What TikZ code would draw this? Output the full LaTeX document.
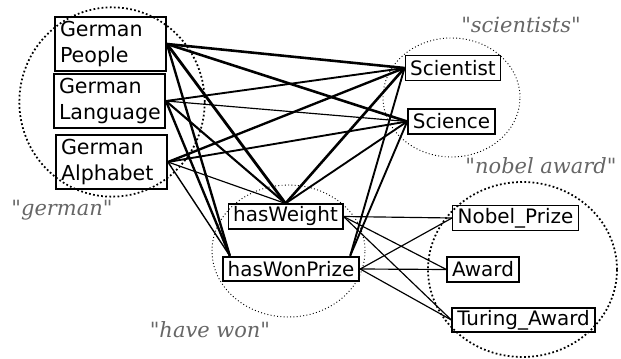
\documentclass[tikz,border=0pt]{standalone}
\usepackage{fontspec}
\setmainfont{DejaVu Sans}
\newfontfamily\groupfont{DejaVu Serif}
\usetikzlibrary{calc}
\tikzset{
    german box/.style={
        draw,line width=1.6pt,
        text width=3.03cm,align=left,inner xsep=0.15cm,
        minimum height=1.56cm,
        font=\fontsize{17.6}{22}\selectfont
    },
    concept box/.style={
        draw,line width=1.2pt,
        inner xsep=0.15cm,inner ysep=0pt,
        minimum height=0.74cm,
        font=\fontsize{17}{20}\selectfont
    },
    group label/.style={text=black!60,font=\groupfont\itshape\fontsize{17.9}{20}\selectfont},
    big ring/.style={dotted,line width=1.5pt},
    small ring/.style={dotted,line width=0.8pt}
}
\begin{document}
\begin{tikzpicture}
\useasboundingbox (0,0) rectangle (18.63,10.74);
% groups
\draw[big ring] (3.36,7.68) ellipse [x radius=2.78cm, y radius=2.84cm];
\draw[small ring] (13.545,7.815) ellipse [x radius=2.055cm, y radius=1.785cm];
\draw[small ring] (8.655,3.21) ellipse [x radius=2.295cm, y radius=1.98cm];
\draw[big ring] (15.675,2.655) ellipse [x radius=2.835cm, y radius=2.625cm];
\node[group label] (german) at (1.86,4.44) {"german"};
\node[group label] (scientists) at (15.63,9.99) {"scientists"};
\node[group label] (havewon) at (6.3,0.84) {"have won"};
\node[group label] (nobelaward) at (16.23,5.76) {"nobel award"};

\node[german box] (people) at (3.315,9.42) {German\\People};
\node[german box] (language) at (3.285,7.71) {German\\Language};
\node[german box] (alphabet) at (3.345,5.88) {German\\Alphabet};
\node[concept box] (scientist) at (13.59,8.70) {Scientist};
\node[concept box] (science) at (13.545,7.095) {Science};
\node[concept box] (weight) at (8.565,4.245) {hasWeight};
\node[concept box,line width=1.5pt] (wonprize) at (8.73,2.67) {hasWonPrize};
\node[concept box] (nobel) at (15.465,4.2) {Nobel\_Prize};
\node[concept box] (award) at (14.49,2.655) {Award};
\node[concept box,line width=1.5pt] (turing) at (15.705,1.14) {Turing\_Award};
\coordinate (wonleft) at ($(wonprize.north west)+(0.24,0)$);
\coordinate (wonright) at ($(wonprize.north east)+(-0.3,0)$);

\foreach \a/\b/\w in {people/scientist/2.2pt,people/science/2.2pt,language/scientist/1.6pt,
    language/science/1pt,alphabet/scientist/2pt,alphabet/science/1.6pt}
    \draw[line width=\w] (\a.east) -- (\b.west);
\foreach \a/\w in {people/2.4pt,language/1.8pt,alphabet/1pt}
    \draw[line width=\w] (\a.east) -- (weight.north);
\foreach \a/\w in {people/2pt,language/2pt,alphabet/1.2pt}
    \draw[line width=\w] (\a.east) -- (wonleft);
\foreach \a/\w in {scientist/2.2pt,science/1.6pt}
    \draw[line width=\w] (\a.west) -- (weight.north);
\foreach \a/\w in {scientist/1.6pt,science/1.6pt}
    \draw[line width=\w] (\a.west) -- (wonright);
\foreach \a in {weight,wonprize}
    \foreach \b in {nobel,award,turing}
        \draw[line width=1pt] (\a.east) -- (\b.west);
\end{tikzpicture}
\end{document}
